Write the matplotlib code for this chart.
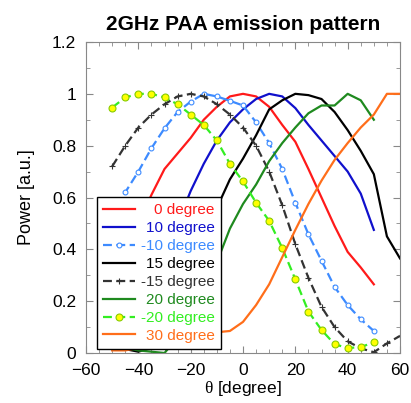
import matplotlib
matplotlib.use("Agg")
from matplotlib import pyplot as plt
from matplotlib.ticker import MultipleLocator

plt.rcParams['font.family'] = ['Liberation Sans', 'DejaVu Sans']
plt.rcParams['mathtext.fontset'] = 'custom'
plt.rcParams['mathtext.rm'] = 'Liberation Serif'

# steering angles, sampled every 5 degrees
theta = list(range(-50, 55, 5))       # -50 .. 50
theta_long = list(range(-50, 65, 5))  # -50 .. 60

p_0 = [0.30, 0.40, 0.50, 0.61, 0.71, 0.77, 0.83, 0.90, 0.95, 0.99, 1.00,
       0.99, 0.95, 0.88, 0.815, 0.71, 0.60, 0.49, 0.39, 0.33, 0.265]
p_10 = [0.10, 0.16, 0.23, 0.31, 0.40, 0.50, 0.625, 0.73, 0.82, 0.89, 0.94,
        0.98, 1.00, 0.99, 0.945, 0.88, 0.82, 0.76, 0.70, 0.615, 0.475]
p_m10 = [0.52, 0.62, 0.70, 0.79, 0.867, 0.93, 0.97, 1.00, 0.99, 0.973, 0.955,
         0.89, 0.81, 0.71, 0.58, 0.458, 0.356, 0.255, 0.185, 0.13, 0.085]
p_15 = [0.04, 0.015, 0.005, 0.02, 0.06, 0.14, 0.25, 0.40, 0.56, 0.67, 0.75,
        0.84, 0.94, 0.975, 1.00, 0.995, 0.98, 0.93, 0.86, 0.78, 0.69, 0.45, 0.365]
p_m15 = [0.72, 0.80, 0.87, 0.92, 0.96, 0.99, 1.00, 0.99, 0.96, 0.92, 0.87,
         0.80, 0.70, 0.57, 0.42, 0.29, 0.178, 0.10, 0.045, 0.018, 0.003, 0.037, 0.066]
p_20 = [0.03, 0.02, 0.01, 0.005, 0.0, 0.06, 0.14, 0.25, 0.35, 0.48, 0.575,
        0.65, 0.74, 0.81, 0.87, 0.925, 0.955, 0.955, 1.00, 0.975, 0.90]
p_m20 = [0.947, 0.986, 1.00, 1.00, 0.986, 0.96, 0.92, 0.88, 0.82, 0.73, 0.662,
         0.58, 0.51, 0.405, 0.284, 0.16, 0.089, 0.034, 0.019, 0.023, 0.041]
p_30 = [0.01, 0.01, 0.02, 0.03, 0.04, 0.05, 0.06, 0.07, 0.08, 0.085, 0.12,
        0.185, 0.265, 0.37, 0.475, 0.575, 0.665, 0.745, 0.81, 0.87, 0.92, 1.00, 1.00]

fig = plt.figure(figsize=(4.11, 4.03), dpi=100)
ax = fig.add_axes([86 / 411, 50 / 403, 314 / 411, 311 / 403])

lw = 1.6
ax.plot(theta, p_0, color='#ff1a1a', lw=lw, label='0 degree')
ax.plot(theta, p_10, color='#1010cc', lw=lw, label='10 degree')
ax.plot(theta, p_m10, color='#3d8bff', lw=lw, ls=(0, (4, 2)), marker='o',
        ms=3.5, mfc='white', mec='#3d8bff', mew=0.8, label='-10 degree')
ax.plot(theta_long, p_15, color='black', lw=lw, label='15 degree')
ax.plot(theta_long, p_m15, color='#333333', lw=lw, ls=(0, (4, 2)), marker='+',
        ms=4, mew=0.8, label='-15 degree')
ax.plot(theta, p_20, color='#1f8a1f', lw=lw, label='20 degree')
ax.plot(theta, p_m20, color='#33ee22', lw=lw, ls=(0, (4, 2)), marker='o',
        ms=5, mfc='#ffff00', mec='#88cc00', mew=0.8, label='-20 degree')
ax.plot(theta_long, p_30, color='#ff6e1a', lw=lw, label='30 degree')

ax.set_xlim(-60, 60)
ax.set_ylim(0, 1.2)
ax.xaxis.set_major_locator(MultipleLocator(20))
ax.xaxis.set_minor_locator(MultipleLocator(5))
ax.yaxis.set_minor_locator(MultipleLocator(0.1))
ax.set_yticks([0, 0.2, 0.4, 0.6, 0.8, 1.0, 1.2])
ax.set_yticklabels(['0', '0.2', '0.4', '0.6', '0.8', '1', '1.2'])
ax.tick_params(which='both', direction='in', top=True, right=True,
               color='#888888', labelsize=12.5)
ax.tick_params(axis='x', pad=7)
ax.tick_params(axis='y', pad=7)
ax.tick_params(which='major', length=5)
ax.tick_params(which='minor', length=3)
for s in ax.spines.values():
    s.set_color('#888888')

ax.set_xlabel(r'$\mathrm{\theta}$ [degree]', fontsize=12.5, labelpad=1)
ax.set_ylabel('Power [a.u.]', fontsize=13, labelpad=12)
ax.set_title('2GHz PAA emission pattern', fontsize=15, fontweight='bold', pad=9)

leg = ax.legend(loc='lower left', bbox_to_anchor=(0.035, 0.013), borderaxespad=0,
                fontsize=11, fancybox=False, framealpha=1, edgecolor='black',
                handlelength=2.1, labelspacing=0.26, handletextpad=0.35,
                borderpad=0.4, numpoints=1)
leg.get_frame().set_linewidth(1.0)

# right-align legend labels and color them like their lines
renderer = fig.canvas.get_renderer()
texts = leg.get_texts()
widths = [t.get_window_extent(renderer).width for t in texts]
shift = max(widths)
for t, w, h in zip(texts, widths, leg.legend_handles):
    t.set_position((shift - w, 0))
    t.set_color(h.get_color())

fig.savefig('out.png', dpi=100)
